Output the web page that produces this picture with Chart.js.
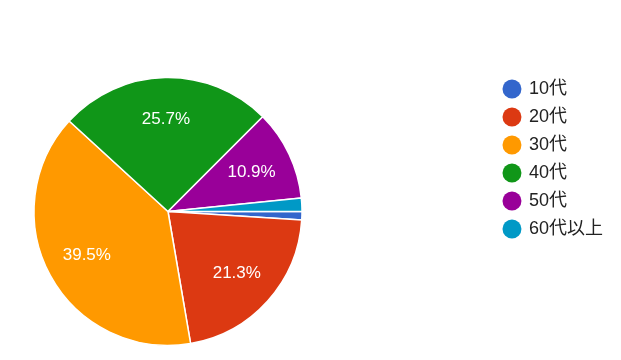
<!DOCTYPE html>
<html>
<head>
<meta charset="utf-8">
<script src="https://cdn.jsdelivr.net/npm/chart.js@4"></script>
<style>
html,body{margin:0;padding:0;background:#fff;}
#wrap{position:relative;width:621px;height:360px;}
</style>
</head>
<body>
<div id="wrap"><canvas id="c"></canvas></div>
<script>
const categories = ["10代", "20代", "30代", "40代", "50代", "60代以上"];
const values = [1.0, 21.3, 39.5, 25.7, 10.9, 1.6];
const colors = ["#3366cc", "#dc3912", "#ff9900", "#109618", "#990099", "#0099c6"];

const FONT = "'Liberation Sans', Arial, 'Noto Sans CJK JP', sans-serif";
const PIE_CENTER_X = 168;

// shift the pie's drawing area so that its centre sits left of the legend gap
const pieArea = {
  id: 'pieArea',
  afterLayout(chart) {
    const a = chart.chartArea;
    a.left = 2 * PIE_CENTER_X - a.right;
    a.width = a.right - a.left;
  }
};

const sliceLabels = {
  id: 'sliceLabels',
  afterDatasetsDraw(chart) {
    const ctx = chart.ctx;
    const meta = chart.getDatasetMeta(0);
    const data = chart.data.datasets[0].data;
    const total = data.reduce((a, b) => a + b, 0);
    ctx.save();
    ctx.fillStyle = '#ffffff';
    ctx.font = '17px ' + FONT;
    ctx.textAlign = 'center';
    ctx.textBaseline = 'middle';
    meta.data.forEach((arc, i) => {
      const pct = data[i] / total * 100;
      if (pct < 5) return;
      const p = arc.getProps(['x', 'y', 'startAngle', 'endAngle', 'outerRadius'], true);
      const mid = (p.startAngle + p.endAngle) / 2;
      const r = p.outerRadius * 0.69;
      ctx.fillText(pct.toFixed(1) + '%', p.x + Math.cos(mid) * r, p.y + Math.sin(mid) * r);
    });
    ctx.restore();
  }
};

new Chart(document.getElementById('c'), {
  type: 'pie',
  data: {
    labels: categories,
    datasets: [{
      data: values,
      backgroundColor: colors,
      borderColor: '#ffffff',
      borderWidth: 1.5,
      radius: 134
    }]
  },
  options: {
    responsive: true,
    maintainAspectRatio: false,
    devicePixelRatio: 1,
    animation: false,
    rotation: 90,
    layout: { padding: { left: 0, right: 8, top: 70, bottom: 7 } },
    plugins: {
      tooltip: { enabled: false },
      legend: {
        position: 'right',
        align: 'start',
        labels: {
          usePointStyle: true,
          pointStyle: 'circle',
          boxWidth: 16,
          boxHeight: 13.4,
          padding: 10,
          color: '#222222',
          font: { size: 18, family: FONT },
          generateLabels(chart) {
            const items = Chart.overrides.pie.plugins.legend.labels.generateLabels(chart);
            items.forEach(it => { it.lineWidth = 0; it.strokeStyle = 'rgba(0,0,0,0)'; });
            return items;
          }
        }
      }
    }
  },
  plugins: [pieArea, sliceLabels]
});
</script>
</body>
</html>
